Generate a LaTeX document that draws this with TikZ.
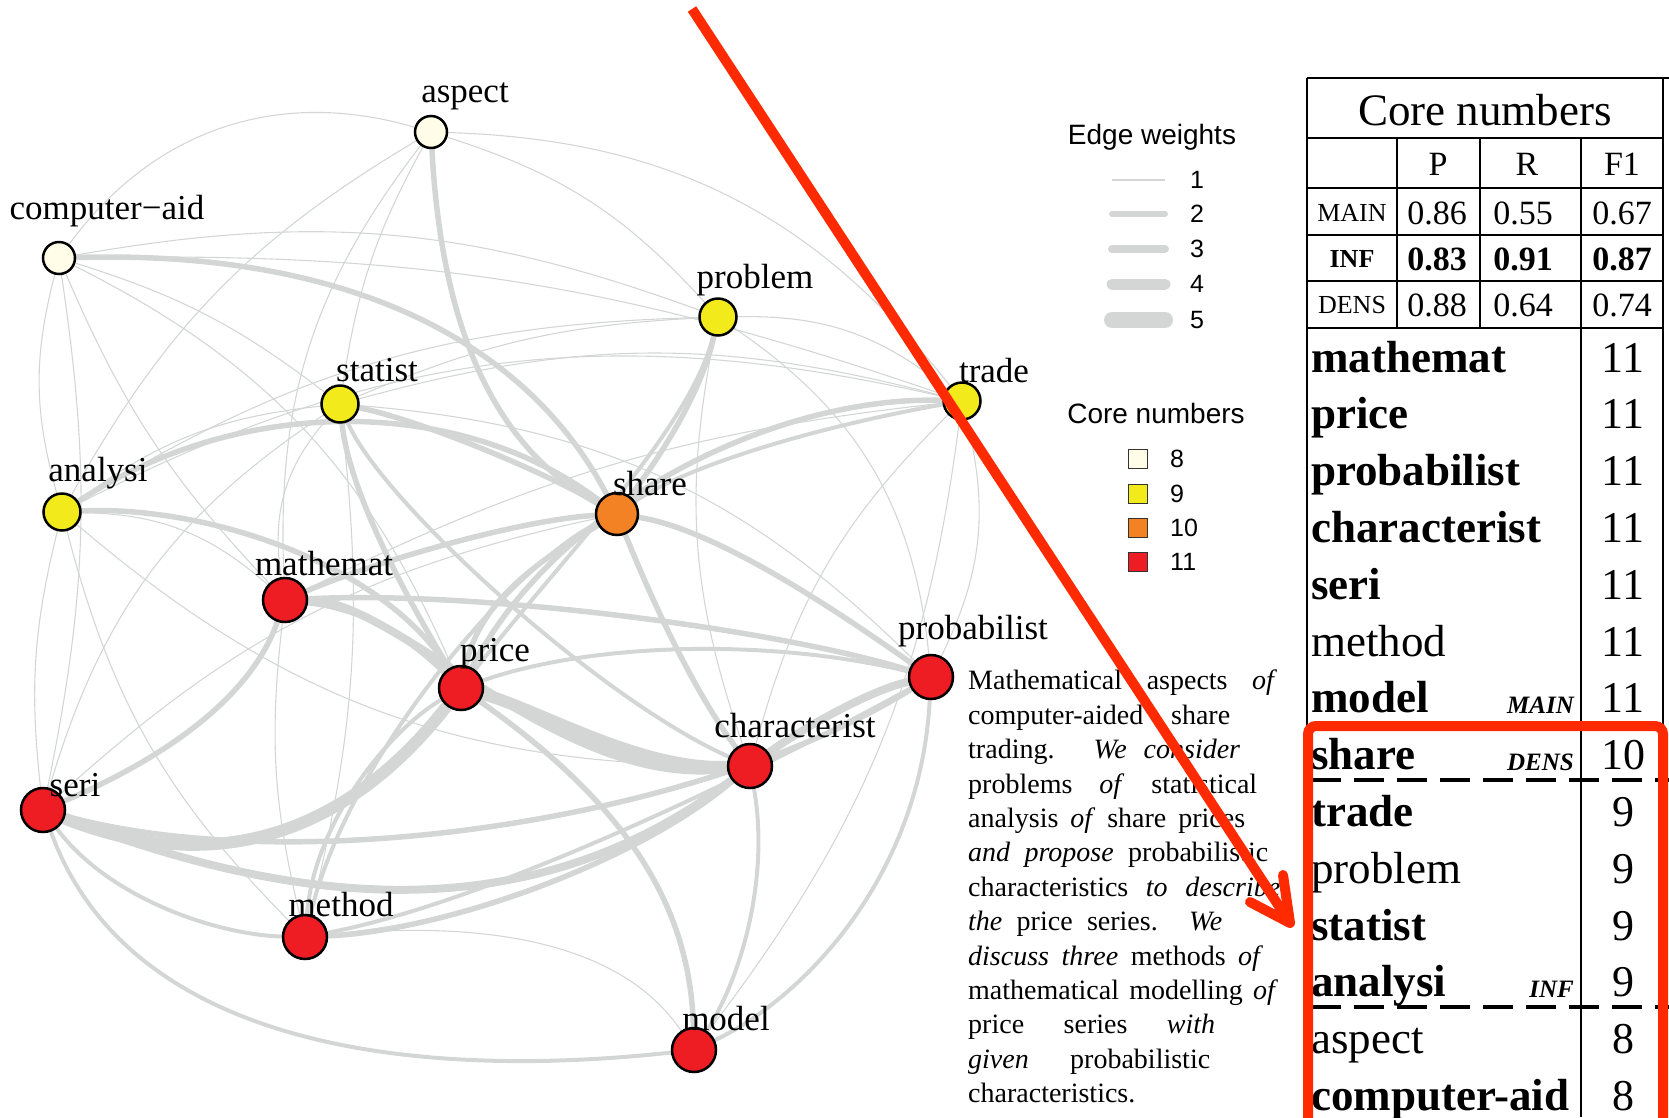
\documentclass[tikz,border=0pt]{standalone}
\usepackage{fontspec}
\setmainfont{Liberation Serif}
\newfontfamily\legendfont{Liberation Sans}
\usetikzlibrary{arrows.meta,positioning,calc}

\definecolor{edgegray}{HTML}{D4D6D6}
\definecolor{core8}{HTML}{FFFDE8}
\definecolor{core9}{HTML}{F2EA1A}
\definecolor{core10}{HTML}{F28223}
\definecolor{core11}{HTML}{EE1D23}
\definecolor{markred}{HTML}{FF2A00}

\pgfdeclarelayer{background}
\pgfsetlayers{background,main}

\tikzset{
  vtx/.style={circle, draw=black, line width=2.5pt, inner sep=0pt},
  c8/.style={vtx, fill=core8, minimum size=32pt},
  c9/.style={vtx, fill=core9, minimum size=37pt},
  c10/.style={vtx, fill=core10, minimum size=42pt},
  c11/.style={vtx, fill=core11, minimum size=44pt},
  lbl/.style={font=\fontsize{35}{37}\selectfont, inner sep=0pt},
  w1/.style={draw=edgegray, line width=1.1pt},
  w2/.style={draw=edgegray, line width=4pt},
  w3/.style={draw=edgegray, line width=5.5pt},
  w4/.style={draw=edgegray, line width=8pt},
  w5/.style={draw=edgegray, line width=12pt},
  legtxt/.style={font=\legendfont\fontsize{28}{30}\selectfont, inner sep=0pt},
  legnum/.style={font=\legendfont\fontsize{25}{27}\selectfont, inner sep=0pt},
  tab/.style={inner sep=0pt},
  tabline/.style={line width=2pt},
}

\begin{document}
\begin{tikzpicture}[x=1pt, y=-1pt]
\useasboundingbox (0,0) rectangle (1669,1117);

% word graph: vertices coloured by core number
\node[c8]  (aspect)       at (431,132)  {};
\node[c8]  (computeraid)  at (59,258)   {};
\node[c9]  (problem)      at (718,317)  {};
\node[c9]  (statist)      at (340,404)  {};
\node[c9]  (trade)        at (962,401)  {};
\node[c9]  (analysi)      at (62,512)   {};
\node[c10] (share)        at (617,514)  {};
\node[c11] (mathemat)     at (285,600)  {};
\node[c11] (probabilist)  at (931,677)  {};
\node[c11] (price)        at (461,688)  {};
\node[c11] (characterist) at (750,766)  {};
\node[c11] (seri)         at (43,810)   {};
\node[c11] (method)       at (305,937)  {};
\node[c11] (model)        at (694,1050) {};

% vertex labels
\node[lbl] (aspect-l)       at ($(aspect)+(34,-36)$)       {aspect};
\node[lbl] (computeraid-l)  at ($(computeraid)+(48,-47)$)  {computer−aid};
\node[lbl] (problem-l)      at ($(problem)+(37,-37)$)      {problem};
\node[lbl] (statist-l)      at ($(statist)+(37,-34)$)      {statist};
\node[lbl] (trade-l)        at ($(trade)+(32,-30)$)        {trade};
\node[lbl] (analysi-l)      at ($(analysi)+(36,-39)$)      {analysi};
\node[lbl] (share-l)        at ($(share)+(33,-30)$)        {share};
\node[lbl] (mathemat-l)     at ($(mathemat)+(39,-36)$)     {mathemat};
\node[lbl] (probabilist-l)  at ($(probabilist)+(42,-46)$)  {probabilist};
\node[lbl] (price-l)        at ($(price)+(34,-34)$)        {price};
\node[lbl] (characterist-l) at ($(characterist)+(45,-40)$) {characterist};
\node[lbl] (seri-l)         at ($(seri)+(32,-25)$)         {seri};
\node[lbl] (method-l)       at ($(method)+(36,-32)$)       {method};
\node[lbl] (model-l)        at ($(model)+(32,-31)$)        {model};

\begin{pgfonlayer}{background}
  % weighted edges
  \draw[w5] (seri) .. controls (220,880) and (350,830) .. (price);
  \draw[w5] (price) .. controls (540,710) and (640,770) .. (characterist);
  \draw[w4] (mathemat) .. controls (400,600) and (560,790) .. (characterist);
  \draw[w4] (seri) .. controls (280,900) and (520,940) .. (characterist);
  \draw[w4] (characterist) .. controls (800,730) and (870,690) .. (probabilist);
  \draw[w3] (seri) .. controls (300,880) and (700,820) .. (probabilist);
  \draw[w3] (method) .. controls (450,930) and (640,860) .. (characterist);
  \draw[w2] (method) .. controls (500,900) and (780,760) .. (probabilist);
  \draw[w3] (seri) .. controls (160,760) and (250,700) .. (mathemat);
  \draw[w2] (seri) .. controls (110,900) and (220,935) .. (method);
  \draw[w2] (seri) .. controls (130,1050) and (420,1080) .. (model);
  \draw[w2] (method) .. controls (315,820) and (390,730) .. (price);
  \draw[w2] (method) .. controls (350,750) and (520,560) .. (share);
  \draw[w3] (mathemat) .. controls (370,610) and (410,640) .. (price);
  \draw[w3] (mathemat) .. controls (480,590) and (780,630) .. (probabilist);
  \draw[w3] (mathemat) .. controls (380,560) and (520,520) .. (share);
  \draw[w3] (analysi) .. controls (200,505) and (380,560) .. (price);
  \draw[w3] (analysi) .. controls (240,395) and (460,395) .. (share);
  \draw[w3] (statist) .. controls (420,420) and (540,470) .. (share);
  \draw[w3] (statist) .. controls (350,500) and (420,620) .. (price);
  \draw[w3] (computeraid) .. controls (330,250) and (520,330) .. (share);
  \draw[w3] (aspect) .. controls (440,300) and (480,440) .. (share);
  \draw[w3] (problem) .. controls (700,400) and (650,470) .. (share);
  \draw[w2] (problem) .. controls (690,430) and (560,560) .. (price);
  \draw[w3] (share) .. controls (720,530) and (850,620) .. (probabilist);
  \draw[w3] (share) .. controls (660,620) and (700,700) .. (characterist);
  \draw[w3] (share) .. controls (540,560) and (480,600) .. (price);
  \draw[w3] (trade) .. controls (780,395) and (560,500) .. (price);
  \draw[w2] (trade) .. controls (800,430) and (680,470) .. (share);
  \draw[w2] (characterist) .. controls (770,880) and (740,980) .. (model);
  \draw[w3] (price) .. controls (620,800) and (690,900) .. (model);
  \draw[w2] (probabilist) .. controls (920,880) and (800,1000) .. (model);
  \draw[w2] (price) .. controls (600,640) and (780,640) .. (probabilist);
  \draw[w2] (statist) .. controls (380,500) and (600,700) .. (characterist);
  \draw[w1] (method) .. controls (480,920) and (620,940) .. (model);
  % light edges
  \draw[w1] (computeraid) to[bend left=35] (aspect);
  \draw[w1] (aspect) to[bend left=25] (trade);
  \draw[w1] (aspect) to[bend left=15] (problem);
  \draw[w1] (aspect) to[bend right=10] (statist);
  \draw[w1] (aspect) to[bend right=20] (mathemat);
  \draw[w1] (aspect) to[bend right=15] (analysi);
  \draw[w1] (computeraid) to[bend left=15] (problem);
  \draw[w1] (computeraid) to[bend left=10] (trade);
  \draw[w1] (computeraid) to[bend left=10] (statist);
  \draw[w1] (computeraid) to[bend right=15] (analysi);
  \draw[w1] (computeraid) to[bend left=10] (seri);
  \draw[w1] (computeraid) to[bend left=20] (price);
  \draw[w1] (computeraid) to[bend right=10] (mathemat);
  \draw[w1] (problem) to[bend right=10] (statist);
  \draw[w1] (problem) to[bend left=20] (trade);
  \draw[w1] (problem) to[bend right=15] (analysi);
  \draw[w1] (problem) to[bend left=25] (probabilist);
  \draw[w1] (problem) to[bend right=15] (characterist);
  \draw[w1] (statist) to[bend left=15] (trade);
  \draw[w1] (statist) to[bend right=15] (analysi);
  \draw[w1] (statist) to[bend right=20] (seri);
  \draw[w1] (statist) to[bend right=25] (mathemat);
  \draw[w1] (statist) to[bend left=10] (method);
  \draw[w1] (statist) to[bend left=20] (probabilist);
  \draw[w1] (trade) to[bend right=20] (analysi);
  \draw[w1] (trade) to[bend right=15] (characterist);
  \draw[w1] (trade) to[bend left=20] (probabilist);
  \draw[w1] (trade) to[bend left=15] (model);
  \draw[w1] (trade) to[bend right=10] (mathemat);
  \draw[w1] (analysi) to[bend right=10] (seri);
  \draw[w1] (analysi) to[bend right=15] (method);
  \draw[w1] (analysi) to[bend right=20] (characterist);
  \draw[w1] (analysi) to[bend left=20] (mathemat);
  \draw[w1] (mathemat) to[bend right=10] (method);
  \draw[w1] (seri) to[bend left=15] (share);
  \draw[w1] (method) to[bend right=15] (characterist);
\end{pgfonlayer}

% legend: edge weights
\node[legtxt] (ew-title) at (1152,137) {Edge weights};
\coordinate (ew1a) at (1112,180); \coordinate (ew1b) at (1165,180);
\coordinate (ew2a) at (1112,214); \coordinate (ew2b) at (1165,214);
\coordinate (ew3a) at (1112,249); \coordinate (ew3b) at (1165,249);
\coordinate (ew4a) at (1112,284); \coordinate (ew4b) at (1165,284);
\coordinate (ew5a) at (1112,320); \coordinate (ew5b) at (1165,320);
\draw[edgegray, line width=1.5pt] (ew1a) -- (ew1b);
\draw[edgegray, line width=6pt, line cap=round] (ew2a) -- (ew2b);
\draw[edgegray, line width=8pt, line cap=round] (ew3a) -- (ew3b);
\draw[edgegray, line width=11pt, line cap=round] (ew4a) -- (ew4b);
\draw[edgegray, line width=16pt, line cap=round] (ew5a) -- (ew5b);
\foreach \k/\yy in {1/180,2/214,3/249,4/284,5/320}
  \node[legnum] (ew\k-n) at (1197,\yy) {\k};

% legend: core numbers
\node[legtxt] (cn-title) at (1156,413) {Core numbers};
\foreach \c/\yy in {8/459,9/494,10/528,11/562}{
  \node[draw=black!80, line width=1.5pt, fill=core\c, minimum size=19pt, inner sep=0pt]
    (cn\c) at (1138,\yy) {};
  \node[legnum, anchor=west] (cn\c-n) at (1170,\yy) {\c};
}

% abstract text, one box per printed line
\node[anchor=north west, inner sep=0pt, align=left,
      font=\fontsize{28}{34.4}\selectfont] (abstract) at (968,670)
  {\makebox[309pt][s]{Mathematical aspects \emph{of}}\\
   \makebox[262pt][s]{computer-aided share}\\
   \makebox[272pt][s]{trading. \emph{We consider}}\\
   \makebox[289pt][s]{problems \emph{of} statistical}\\
   \makebox[277pt][s]{analysis \emph{of} share prices}\\
   \makebox[300pt][s]{\emph{and propose} probabilistic}\\
   \makebox[312pt][s]{characteristics \emph{to describe}}\\
   \makebox[254pt][s]{\emph{the} price series. \emph{We}}\\
   \makebox[295pt][s]{\emph{discuss three} methods \emph{of}}\\
   \makebox[310pt][s]{mathematical modelling \emph{of}}\\
   \makebox[247pt][s]{price series \emph{with}}\\
   \makebox[242pt][s]{\emph{given} probabilistic}\\
   characteristics.};

% scores table
\draw[tabline] (1307,78) -- (1669,78);
\draw[tabline] (1307,78) -- (1307,1117);
\draw[tabline] (1663,78) -- (1663,1117);
\draw[tabline] (1307,138) -- (1663,138);
\draw[tabline] (1307,188) -- (1663,188);
\draw[tabline] (1307,235) -- (1663,235);
\draw[tabline] (1307,281) -- (1663,281);
\draw[tabline] (1307,328) -- (1663,328);
\draw[tabline] (1397,138) -- (1397,328);
\draw[tabline] (1480,138) -- (1480,328);
\draw[tabline] (1581,138) -- (1581,1117);

\node[tab, font=\fontsize{45}{47}\selectfont] (t-title) at (1485,110) {Core numbers};
\begin{scope}[every node/.style={tab, font=\fontsize{34}{36}\selectfont}]
  \node (t-p)  at (1438,164) {P};
  \node (t-r)  at (1527,164) {R};
  \node (t-f)  at (1622,164) {F1};
  \node[font=\fontsize{26}{28}\selectfont] (t-main) at (1352,213) {MAIN};
  \node (t-main-p) at (1437,213) {0.86};
  \node (t-main-r) at (1523,213) {0.55};
  \node (t-main-f) at (1622,213) {0.67};
  \node[font=\fontsize{26}{28}\selectfont\bfseries] (t-inf) at (1352,259) {INF};
  \node[font=\fontsize{34}{36}\selectfont\bfseries] (t-inf-p) at (1437,259) {0.83};
  \node[font=\fontsize{34}{36}\selectfont\bfseries] (t-inf-r) at (1523,259) {0.91};
  \node[font=\fontsize{34}{36}\selectfont\bfseries] (t-inf-f) at (1622,259) {0.87};
  \node[font=\fontsize{26}{28}\selectfont] (t-dens) at (1352,305) {DENS};
  \node (t-dens-p) at (1437,305) {0.88};
  \node (t-dens-r) at (1523,305) {0.64};
  \node (t-dens-f) at (1622,305) {0.74};
\end{scope}

% ranked words and their core numbers
\foreach \k/\w/\n in {0/\textbf{mathemat}/11, 1/\textbf{price}/11,
    2/\textbf{probabilist}/11, 3/\textbf{characterist}/11, 4/\textbf{seri}/11,
    5/method/11, 6/\textbf{model}/11, 7/\textbf{share}/10, 8/\textbf{trade}/9,
    9/problem/9, 10/\textbf{statist}/9, 11/\textbf{analysi}/9, 12/aspect/8,
    13/\textbf{computer-aid}/8}{
  \node[tab, anchor=base west, font=\fontsize{45}{47}\selectfont]
    (w\k) at (1311,372+56.8*\k) {\w};
  \node[tab, anchor=base, font=\fontsize{44}{46}\selectfont]
    (n\k) at (1623,372+56.8*\k) {\n};
}
\begin{scope}[every node/.style={tab, anchor=base east,
    font=\fontsize{25}{27}\selectfont\bfseries\itshape}]
  \node (tag-main) at (1574,713) {MAIN};
  \node (tag-dens) at (1574,770) {DENS};
  \node (tag-inf)  at (1574,997) {INF};
\end{scope}
\draw[line width=4pt, dash pattern=on 30pt off 13pt] (1311,780) -- (1669,780);
\draw[line width=4pt, dash pattern=on 30pt off 13pt] (1311,1007) -- (1669,1007);

% red highlight box and pointer
\draw[markred, line width=10pt, rounded corners=8pt] (1308,726) rectangle (1663,1150);
\coordinate (tail) at (692,9);
\coordinate (tip) at (1290,923);
\coordinate (barb1) at (1283,875);
\coordinate (barb2) at (1250,902);
\draw[markred, line width=10pt] (tail) -- (tip);
\draw[markred, line width=10pt, line cap=round, line join=round] (barb1) -- (tip) -- (barb2);
\end{tikzpicture}
\end{document}
